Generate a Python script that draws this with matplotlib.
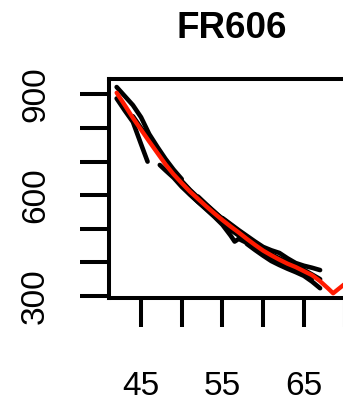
import matplotlib
matplotlib.use("Agg")
import matplotlib.pyplot as plt

plt.rcParams["font.family"] = ["Liberation Sans", "DejaVu Sans"]

# fitted mean curve
red_age = [42, 43, 44, 45, 46, 47, 48, 49, 50, 51, 52, 53, 54, 55, 56, 57, 58, 59,
           60, 61, 62, 63, 64, 65, 66, 67, 68, 68.6, 70.5]
red_wt = [905, 868, 830, 795, 760, 726, 692, 662, 636, 611, 589, 567, 546, 526, 507, 489,
          470, 452, 435, 421, 408, 396, 386, 374, 362, 344, 322, 308, 345]

# individual trajectories
ind_ages = [
    [42, 43, 44, 45, 46, 47, 48, 49, 50],
    [42, 43, 44, 45, 45.8],
    [47.3, 48, 49, 50, 51, 52, 53, 54, 55, 56, 57],
    [44, 45, 46, 47, 48, 49, 50, 51, 52, 53, 54, 55, 56, 57, 58],
    [50, 51, 52, 53, 54, 55, 56, 56.5, 57, 58, 59, 60, 61, 62],
    [55, 56, 57, 58, 59, 60, 61, 62, 63, 64, 65, 66, 67],
    [58, 59, 60, 61, 62, 63, 64, 65, 66, 67],
    [52, 53, 54, 55, 56, 57, 58, 59, 60],
    [46, 47, 48, 49, 50, 51, 52, 53, 54, 55],
    [56, 57, 58, 59, 60, 61, 62, 63, 64, 65, 66],
    [60, 61, 62, 63, 64, 65, 66, 67],
]
ind_wts = [
    [922, 895, 868, 832, 782, 744, 708, 676, 648],
    [888, 852, 818, 752, 700],
    [690, 674, 652, 625, 602, 580, 560, 538, 516, 497, 480],
    [835, 800, 768, 734, 700, 670, 642, 616, 593, 571, 550, 530, 512, 493, 475],
    [630, 603, 580, 558, 536, 512, 480, 462, 470, 458, 440, 426, 413, 400],
    [532, 514, 496, 479, 462, 446, 436, 428, 412, 398, 390, 384, 377],
    [455, 437, 420, 404, 392, 381, 371, 360, 343, 323],
    [596, 573, 551, 528, 505, 485, 466, 449, 431],
    [770, 733, 698, 668, 641, 614, 590, 566, 544, 522],
    [500, 482, 462, 445, 430, 416, 402, 390, 380, 368, 352],
    [440, 424, 412, 400, 388, 378, 364, 350],
]

fig = plt.figure(figsize=(3.43, 4.01), dpi=100)
ax = fig.add_axes([0.3187, 0.2561, 0.923, 0.5461])

for a, w in zip(ind_ages, ind_wts):
    ax.plot(a, w, color="black", lw=3.3, solid_capstyle="round", solid_joinstyle="round")
ax.plot(red_age, red_wt, color="#ff1a00", lw=3.1, solid_capstyle="round", solid_joinstyle="round")

ax.set_xlim(41.1, 80)
ax.set_ylim(293, 945)

ax.set_xticks([45, 50, 55, 60, 65, 70])
ax.set_xticklabels(["45", "", "55", "", "65", ""])
ax.set_yticks([300, 400, 500, 600, 700, 800, 900])
ax.set_yticklabels(["300", "", "", "600", "", "", "900"], rotation=90, va="center")

ax.tick_params(axis="both", direction="out", length=21, width=2.9, labelsize=24)
ax.tick_params(axis="x", pad=31)
ax.tick_params(axis="y", pad=21)

for s in ax.spines.values():
    s.set_linewidth(2.9)

fig.text(0.6755, 0.9045, "FR606", ha="center", va="baseline", fontsize=26.5, fontweight="bold")

fig.savefig("out.png", dpi=100)
